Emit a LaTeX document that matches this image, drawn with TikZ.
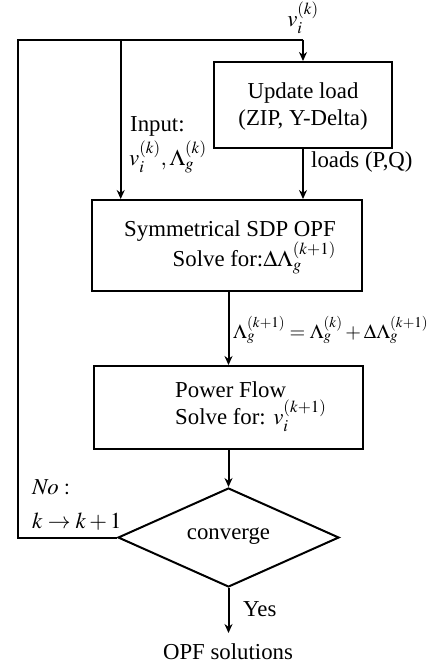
\documentclass[tikz,border=0pt]{standalone}
\usepackage{mathptmx}
\usepackage[no-math]{fontspec}
\setmainfont{Liberation Serif}
\usetikzlibrary{shapes.geometric,arrows.meta}
\tikzset{
  boxnode/.style={draw, line width=2pt, inner sep=0pt},
  txt/.style={inner sep=0pt, font=\fontsize{22.8}{27}\selectfont},
  lbl/.style={inner sep=0pt, font=\fontsize{22.8}{27}\selectfont},
  conn/.style={line width=2pt},
  arr/.style={line width=2pt, -{Stealth[length=9pt,width=8pt]}},
}
\begin{document}
\begin{tikzpicture}[x=1pt,y=-1pt]
\useasboundingbox (0,0) rectangle (431,667);
% boxes
\node[boxnode, minimum width=178pt, minimum height=86pt] (upd) at (303,105) {};
\node[txt, align=center] (updt) at (303,107) {Update load\\(ZIP, Y-Delta)};
\node[boxnode, minimum width=270pt, minimum height=91pt] (sdp) at (227,245.5) {};
\node[txt, align=right, anchor=east] (sdpt) at (336,247) {Symmetrical SDP OPF\\Solve for:$\Delta\Lambda_g^{(k+1)}$};
\node[boxnode, minimum width=269pt, minimum height=83pt] (pf) at (228.5,407.5) {};
\node[txt, align=left, anchor=west] (pft) at (175,407) {Power Flow\\Solve for: $v_i^{(k+1)}$};
\node[boxnode, shape=diamond, aspect=2.23, minimum width=221pt, minimum height=99pt] (dia) at (228.5,537.5) {};
\node[txt] (diat) at (228.5,536) {converge};
\node[txt] (opf) at (228,652) {OPF solutions};
% coordinates
\coordinate (lb) at (18,537.5);
\coordinate (lt) at (18,39.5);
\coordinate (it) at (120.7,39.5);
\coordinate (rt) at (303,39.5);
\coordinate (out) at (228.5,633);
% connectors
\draw[conn] (dia.west) -- (lb) -- (lt) -- (rt);
\draw[arr] (rt) -- (upd.north);
\draw[arr] (it) -- (it |- sdp.north);
\draw[arr] (upd.south) -- (upd.south |- sdp.north);
\draw[arr] (sdp.south -| pf.north) -- (pf.north);
\draw[arr] (pf.south) -- (dia.north);
\draw[arr] (dia.south) -- (out);
% labels
\node[lbl] (vtop) at (303,18) {$v_i^{(k)}$};
\node[lbl, anchor=west] (inp) at (130,126) {Input:};
\node[lbl, anchor=west] (inpv) at (129,157) {$v_i^{(k)},\Lambda_g^{(k)}$};
\node[lbl, anchor=west] (loads) at (311,162) {loads (P,Q)};
\node[lbl, anchor=west, font=\fontsize{20.2}{24}\selectfont] (lam) at (233,330) {$\Lambda_g^{(k+1)}=\Lambda_g^{(k)}+\Delta\Lambda_g^{(k+1)}$};
\node[lbl, anchor=west] (no) at (32,487) {$\mathit{No}:$};
\node[lbl, anchor=west] (kk) at (32,522) {$k\rightarrow k+1$};
\node[lbl, anchor=west] (yes) at (243,609) {Yes};
\end{tikzpicture}
\end{document}
